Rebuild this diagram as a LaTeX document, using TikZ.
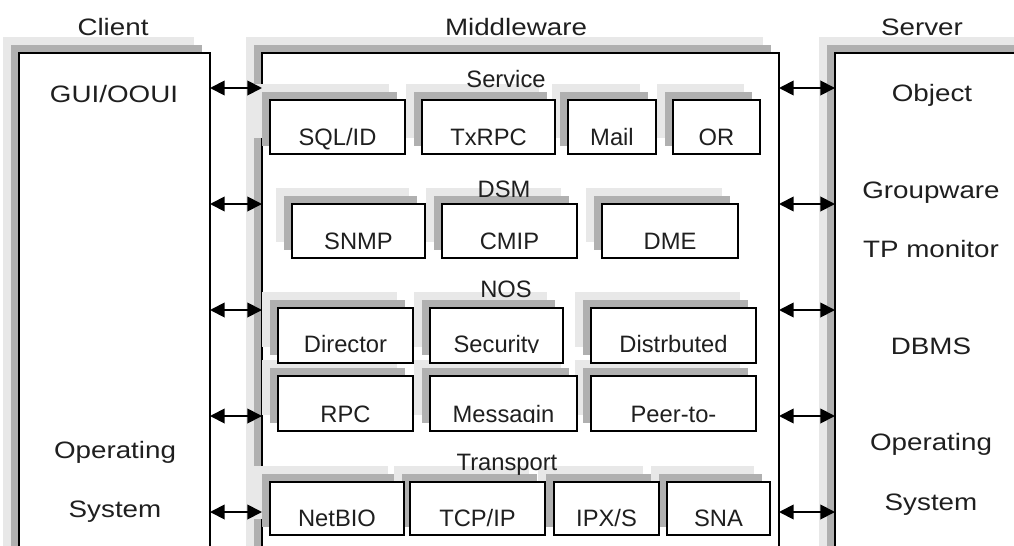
\documentclass[tikz,border=0pt]{standalone}
\usepackage{fontspec}
\setmainfont{Liberation Sans}
\usetikzlibrary{arrows.meta}

% wide lettering used for the three column titles and their contents
\newcommand\widetxt[1]{\scalebox{1.17}[1]{#1}}

% light and dark shadow strips behind a box (x1,y1)-(x2,y2)
\newcommand\boxshadow[4]{%
  \fill[shlight] (#1-16,#2-16) rectangle (#3-16,#4-16);
  \fill[shdark]  (#1-8,#2-8)   rectangle (#3-8,#4-8);
}

% one row of sub-boxes: list name/x1/x2/text, top, bottom, baseline, clip line
\newcommand\rowshadows[3]{%
  \foreach \n/\xa/\xb/\t in {#1} {\boxshadow{\xa}{#2}{\xb}{#3}}%
}
\newcommand\rowboxes[5]{%
  \foreach \n/\xa/\xb/\t in {#1} {%
    \node[subbox, minimum width={(\xb-\xa)*0.75pt},
          minimum height={(#3-#2)*0.75pt}] (\n) at (\xa,#2) {};
    \begin{scope}
      \clip (\xa,#2) rectangle (\xb,#5);
      \node[lbl, anchor=base] (\n-t) at ({(\xa+\xb)/2},#4) {\t};
    \end{scope}
  }%
}

\begin{document}
\begin{tikzpicture}[x=0.75pt, y=-0.75pt,
  shlight/.style={fill=black!9},
  shdark/.style={fill=black!31},
  bigbox/.style={draw=black, line width=1.3pt, fill=white, inner sep=0pt,
                 outer sep=0pt, anchor=north west},
  subbox/.style={bigbox},
  lbl/.style={inner sep=0pt, text=black!88, font=\fontsize{17.8pt}{20pt}\selectfont},
  arr/.style={{Triangle[length=11pt,width=11pt]}-{Triangle[length=11pt,width=11pt]},
              line width=1.4pt},
]
\useasboundingbox (0,0) rectangle (1014,546);
\clip (0,0) rectangle (1014,546);

% ---- shadows of the three columns
\boxshadow{19}{53}{210}{620}
\boxshadow{262}{53}{779}{620}
\boxshadow{835}{53}{1060}{620}

% ---- the three columns
\node[bigbox, minimum width={191*0.75pt}, minimum height={567*0.75pt}] (client) at (19,53) {};
\node[bigbox, minimum width={517*0.75pt}, minimum height={567*0.75pt}] (mw) at (262,53) {};
\node[bigbox, minimum width={225*0.75pt}, minimum height={567*0.75pt}] (server) at (835,53) {};

% ---- column titles
\node[lbl, anchor=base] (tclient) at (113,35) {\widetxt{Client}};
\node[lbl, anchor=base] (tmw)     at (516,35) {\widetxt{Middleware}};
\node[lbl, anchor=base] (tserver) at (922,35) {\widetxt{Server}};

% ---- client contents
\node[lbl, anchor=base] (gui)  at (114,102) {\widetxt{GUI/OOUI}};
\node[lbl, anchor=base] (cop)  at (115,458) {\widetxt{Operating}};
\node[lbl, anchor=base] (csys) at (115,517) {\widetxt{System}};

% ---- server contents
\node[lbl, anchor=base] (obj)  at (932,101) {\widetxt{Object}};
\node[lbl, anchor=base] (grp)  at (931,198) {\widetxt{Groupware}};
\node[lbl, anchor=base] (tpm)  at (931,257) {\widetxt{TP monitor}};
\node[lbl, anchor=base] (dbms) at (931,354) {\widetxt{DBMS}};
\node[lbl, anchor=base] (sop)  at (931,450) {\widetxt{Operating}};
\node[lbl, anchor=base] (ssys) at (931,510) {\widetxt{System}};

% ---- middleware layers
\def\servicerow{sql/270/405/{SQL/ID}, txrpc/422/555/TxRPC, mail/568/656/Mail, or/673/760/OR}
\def\dsmrow{snmp/292/425/SNMP, cmip/442/577/CMIP, dme/602/738/DME}
\def\nosrowa{dir/278/413/Director, sec/430/563/Security, dist/591/756/Distrbuted}
\def\nosrowb{rpc/278/413/RPC, msg/430/577/Messagin, p2p/591/756/Peer-to-}
\def\transrow{netb/270/404/NetBIO, tcp/410/545/{TCP/IP}, ipx/554/659/{IPX/S}, sna/667/770/SNA}

\expandafter\rowshadows\expandafter{\servicerow}{100}{154}
\expandafter\rowshadows\expandafter{\dsmrow}{204}{258}
\expandafter\rowshadows\expandafter{\nosrowa}{308}{363}
\expandafter\rowshadows\expandafter{\nosrowb}{376}{431}
\expandafter\rowshadows\expandafter{\transrow}{482}{535}

\expandafter\rowboxes\expandafter{\servicerow}{100}{154}{145}{154}
\expandafter\rowboxes\expandafter{\dsmrow}{204}{258}{249}{258}
\expandafter\rowboxes\expandafter{\nosrowa}{308}{363}{352}{352}
\expandafter\rowboxes\expandafter{\nosrowb}{376}{431}{422}{422}
\expandafter\rowboxes\expandafter{\transrow}{482}{535}{526}{535}

\node[lbl, anchor=base] (lservice) at (506,87)  {Service};
\node[lbl, anchor=base] (ldsm)     at (504,197) {DSM};
\node[lbl, anchor=base] (lnos)     at (506,297) {NOS};
\node[lbl, anchor=base] (ltrans)   at (507,470) {Transport};

% ---- links between the columns
\foreach \y in {88,204,310,416,512} {
  \draw[arr] (client.east |- 0,\y) -- (mw.west |- 0,\y);
  \draw[arr] (mw.east |- 0,\y) -- (server.west |- 0,\y);
}
\end{tikzpicture}
\end{document}
